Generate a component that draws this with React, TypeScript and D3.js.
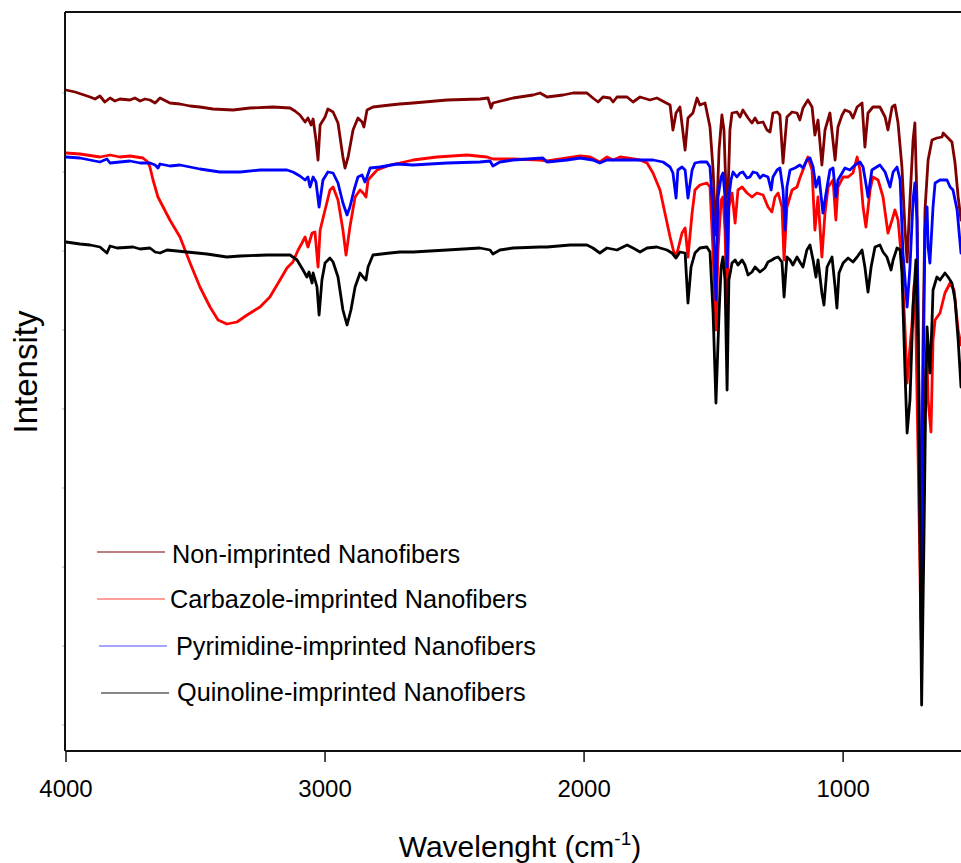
import React from "react";
import * as d3 from "d3";

// Wavenumber (cm-1), intensity (a.u.)
const nonImprinted: [number, number][] = [
  [4000,66.0],[3965,65.8],[3907,65.3],[3888,65.1],[3869,65.4],[3850,64.8],[3830,65.2],[3811,64.9],[3792,65.1],[3753,65.0],[3734,65.2],[3714,64.9],[3695,65.1],[3676,65.0],[3656,64.7],[3637,65.2],[3599,64.7],[3560,64.6],[3521,64.4],[3483,64.3],[3433,64.1],[3355,64.0],[3290,64.2],[3201,64.3],[3135,64.2],[3116,63.9],[3097,63.5],[3077,62.8],[3066,63.2],[3054,62.5],[3046,63.1],[3035,61.0],[3027,59.0],[3019,62.5],[3000,63.3],[2989,64.1],[2969,63.8],[2950,62.7],[2931,59.3],[2923,58.2],[2911,59.3],[2892,62.0],[2873,63.2],[2857,62.8],[2850,62.3],[2838,64.0],[2815,64.3],[2749,64.5],[2711,64.6],[2660,64.7],[2529,65.0],[2402,65.1],[2371,65.2],[2359,64.2],[2352,64.7],[2274,65.2],[2197,65.5],[2170,65.7],[2143,65.3],[2081,65.5],[2043,65.7],[1989,65.7],[1966,65.2],[1946,64.8],[1927,65.3],[1900,65.2],[1888,64.8],[1873,65.3],[1834,65.3],[1811,64.8],[1784,65.3],[1746,65.0],[1719,65.2],[1668,64.5],[1657,62.0],[1645,63.7],[1630,64.3],[1610,60.0],[1599,63.2],[1580,63.7],[1564,65.2],[1553,64.5],[1533,64.7],[1514,62.3],[1502,58.0],[1491,51.5],[1479,60.0],[1468,63.5],[1460,62.0],[1448,52.5],[1437,62.0],[1429,63.7],[1410,63.8],[1398,63.3],[1387,64.0],[1367,63.2],[1352,62.7],[1340,63.2],[1329,62.7],[1309,62.8],[1294,62.0],[1282,61.8],[1271,63.7],[1255,63.8],[1244,63.5],[1232,58.7],[1217,63.3],[1197,63.8],[1178,63.7],[1167,63.0],[1155,64.2],[1136,65.0],[1120,64.3],[1109,61.5],[1097,63.0],[1082,58.5],[1070,62.0],[1051,63.7],[1031,59.0],[1020,62.3],[1004,63.5],[993,64.0],[974,63.8],[962,63.2],[946,64.3],[927,64.7],[916,60.3],[904,63.7],[885,64.3],[858,64.3],[838,63.3],[827,62.0],[811,64.3],[800,64.5],[788,62.7],[773,58.3],[761,52.0],[753,48.8],[742,55.0],[730,61.0],[723,62.7],[715,55.0],[707,33.0],[699,17.0],[692,40.0],[684,54.0],[672,59.0],[657,61.0],[638,61.2],[618,61.3],[614,61.7],[595,61.2],[580,60.8],[568,58.7],[556,55.3],[545,53.0]
];

const carbazole: [number, number][] = [
  [4000,59.7],[3946,59.6],[3869,59.3],[3830,59.5],[3792,59.3],[3753,59.4],[3703,59.2],[3684,58.8],[3676,58.3],[3664,57.0],[3645,55.3],[3629,54.5],[3599,53.0],[3560,51.3],[3521,48.7],[3483,46.3],[3444,44.3],[3413,43.0],[3379,42.6],[3340,42.8],[3301,43.5],[3251,44.3],[3213,45.3],[3174,47.0],[3147,48.2],[3124,48.8],[3104,50.0],[3089,50.7],[3077,51.3],[3066,50.3],[3050,51.7],[3039,51.8],[3027,48.3],[3019,52.0],[3000,54.0],[2981,56.0],[2969,56.3],[2950,55.0],[2931,52.0],[2919,49.5],[2904,52.3],[2884,55.3],[2865,56.0],[2853,55.7],[2842,55.3],[2834,57.0],[2799,58.0],[2749,58.5],[2711,58.7],[2660,59.0],[2568,59.3],[2452,59.5],[2375,59.3],[2352,59.1],[2274,59.1],[2170,59.0],[2143,58.9],[2066,59.2],[2016,59.4],[1977,59.3],[1939,58.8],[1912,59.3],[1888,59.0],[1861,59.3],[1834,59.2],[1784,59.0],[1757,58.7],[1734,57.7],[1707,56.0],[1688,53.7],[1668,51.3],[1649,49.3],[1638,50.0],[1622,51.7],[1610,52.2],[1599,49.3],[1583,53.7],[1572,56.0],[1553,56.5],[1526,56.7],[1514,56.3],[1502,49.7],[1491,42.0],[1483,50.0],[1471,55.0],[1464,55.3],[1456,52.0],[1448,43.0],[1441,54.3],[1429,55.7],[1417,52.7],[1406,56.0],[1390,56.3],[1371,55.7],[1352,55.3],[1333,55.7],[1309,55.5],[1290,54.3],[1275,53.8],[1263,55.3],[1251,55.7],[1236,54.3],[1228,49.0],[1217,54.3],[1197,56.0],[1178,56.3],[1167,57.2],[1155,58.0],[1136,59.3],[1120,58.0],[1109,52.0],[1097,55.3],[1082,49.3],[1070,53.7],[1058,56.3],[1039,57.0],[1028,53.0],[1020,56.3],[1000,57.3],[981,57.3],[962,57.7],[946,59.3],[935,58.0],[923,54.3],[912,52.3],[896,56.0],[885,57.3],[865,57.0],[846,55.3],[827,51.7],[811,53.0],[800,54.0],[788,53.0],[773,48.7],[761,42.0],[753,36.7],[742,40.3],[734,42.7],[726,46.5],[719,42.0],[711,30.0],[699,11.0],[692,30.0],[684,37.0],[676,39.0],[672,35.0],[661,31.8],[653,41.0],[645,43.0],[626,43.7],[607,45.7],[587,46.7],[572,46.0],[556,42.0],[545,40.5]
];

const pyrimidine: [number, number][] = [
  [4000,59.3],[3946,59.2],[3869,58.8],[3842,59.1],[3830,58.7],[3792,58.8],[3753,58.9],[3714,58.7],[3676,58.7],[3656,58.5],[3645,58.2],[3637,58.6],[3599,58.4],[3560,58.5],[3483,58.1],[3406,57.8],[3328,57.8],[3251,58.0],[3147,58.0],[3124,57.8],[3097,57.4],[3077,57.0],[3066,57.3],[3058,56.3],[3046,57.3],[3035,56.8],[3023,54.3],[3008,57.0],[2989,57.8],[2969,57.7],[2950,56.7],[2931,54.7],[2915,53.5],[2904,54.3],[2888,56.0],[2873,57.3],[2857,57.5],[2846,56.8],[2838,57.3],[2826,58.2],[2788,58.3],[2722,58.6],[2660,58.5],[2529,58.7],[2402,58.8],[2363,58.9],[2352,58.4],[2325,58.8],[2274,59.0],[2159,59.2],[2143,58.8],[2066,59.0],[2016,59.2],[1966,59.0],[1939,58.7],[1912,59.0],[1873,59.0],[1834,59.0],[1784,59.0],[1734,59.0],[1695,58.8],[1668,58.3],[1657,57.7],[1645,55.2],[1638,58.0],[1622,58.3],[1610,58.0],[1599,55.2],[1583,58.0],[1572,58.7],[1553,58.8],[1526,58.8],[1514,58.3],[1502,53.7],[1491,45.0],[1483,55.3],[1471,57.3],[1464,57.7],[1456,55.3],[1448,48.3],[1441,55.3],[1433,57.0],[1425,57.8],[1410,57.3],[1398,57.7],[1387,57.8],[1371,57.2],[1360,57.3],[1348,57.8],[1333,57.7],[1321,57.2],[1309,57.5],[1290,57.3],[1278,56.0],[1271,57.3],[1255,58.0],[1244,58.2],[1232,56.0],[1224,52.0],[1217,56.3],[1205,58.0],[1186,58.2],[1167,58.5],[1155,58.2],[1140,59.0],[1128,59.2],[1116,58.3],[1105,56.3],[1093,57.3],[1078,53.7],[1062,56.3],[1051,58.0],[1039,58.2],[1028,55.3],[1020,57.0],[1004,57.7],[993,58.2],[974,58.0],[954,58.5],[935,58.8],[923,58.3],[908,56.0],[904,55.3],[889,58.0],[877,58.2],[858,58.5],[838,57.8],[819,56.3],[807,57.8],[792,58.3],[780,57.0],[769,49.7],[753,44.3],[742,48.3],[730,55.0],[723,56.7],[715,53.0],[707,35.0],[699,13.0],[692,35.0],[684,52.0],[676,54.3],[672,50.3],[665,48.7],[653,54.3],[645,56.7],[626,57.0],[599,57.0],[587,56.3],[576,56.0],[560,54.0],[545,49.7]
];

const quinoline: [number, number][] = [
  [4000,50.8],[3946,50.6],[3907,50.5],[3869,50.3],[3842,49.7],[3830,50.4],[3803,50.2],[3741,50.3],[3714,50.1],[3676,50.2],[3656,49.8],[3637,49.7],[3610,50.0],[3533,49.8],[3456,49.6],[3379,49.3],[3328,49.4],[3224,49.5],[3135,49.5],[3108,49.0],[3085,48.0],[3070,47.3],[3062,47.8],[3050,46.7],[3046,47.7],[3031,46.3],[3023,43.5],[3012,47.0],[3000,48.7],[2981,49.2],[2969,48.8],[2950,47.3],[2931,44.0],[2915,42.5],[2900,44.0],[2884,46.3],[2865,47.7],[2853,47.3],[2842,47.0],[2834,48.3],[2815,49.5],[2749,49.7],[2711,49.8],[2660,49.8],[2529,50.0],[2402,50.2],[2363,50.0],[2352,49.6],[2325,50.0],[2274,50.2],[2170,50.3],[2143,50.3],[2054,50.5],[1989,50.5],[1966,50.2],[1939,49.7],[1912,50.2],[1873,50.0],[1834,50.5],[1811,50.2],[1784,49.8],[1757,50.2],[1719,50.3],[1680,50.0],[1661,49.7],[1645,49.2],[1630,49.8],[1610,49.7],[1599,44.7],[1587,48.3],[1572,49.7],[1553,50.2],[1526,50.3],[1514,49.8],[1502,43.7],[1491,34.7],[1479,43.7],[1471,48.3],[1464,49.3],[1456,47.0],[1448,36.0],[1441,47.0],[1429,48.7],[1417,49.0],[1406,48.5],[1390,49.0],[1379,48.5],[1367,47.5],[1352,47.8],[1340,48.3],[1321,47.8],[1302,48.2],[1290,48.8],[1275,49.0],[1263,49.2],[1251,49.3],[1236,48.8],[1228,45.3],[1217,49.3],[1205,49.0],[1194,48.5],[1178,49.3],[1167,48.8],[1155,48.3],[1140,50.0],[1128,50.5],[1116,49.0],[1105,47.3],[1097,49.0],[1082,45.7],[1074,44.5],[1062,48.3],[1043,49.3],[1031,46.3],[1024,44.2],[1016,47.7],[1000,48.7],[981,49.2],[962,48.8],[946,49.3],[927,50.0],[916,48.3],[904,45.8],[892,48.3],[877,50.3],[858,50.5],[846,49.8],[831,49.3],[815,48.0],[807,49.0],[792,50.2],[780,50.0],[773,47.7],[761,37.7],[753,31.7],[742,35.0],[730,44.3],[719,49.0],[711,41.0],[703,21.0],[697,4.5],[688,21.0],[680,37.7],[676,42.3],[665,37.7],[657,42.7],[653,46.0],[638,47.3],[626,47.0],[607,47.7],[595,47.3],[580,46.7],[568,45.0],[556,41.0],[545,36.3]
];

const seriesNames = [
  "Non-imprinted Nanofibers",
  "Carbazole-imprinted Nanofibers",
  "Pyrimidine-imprinted Nanofibers",
  "Quinoline-imprinted Nanofibers",
];
const seriesColors = ["#7f0000", "#ff0000", "#0000ff", "#000000"];
const legendColors = ["#800000", "#ff3a3a", "#4a4aff", "#111111"];
const xTicks = [4000, 3000, 2000, 1000];
const yTickValues = [65.7, 57.8, 49.9, 42.0, 34.1, 26.2, 18.3, 10.4, 2.5];

const W = 961;
const H = 863;
const left = 66;
const right = 961;
const top = 12;
const bottom = 750;
const font = "Arial, 'Liberation Sans', Helvetica, sans-serif";

export default function App() {
  const x = d3.scaleLinear().domain([4000, 545]).range([left, right]);
  const y = d3.scaleLinear().domain([0, 73.8]).range([bottom, top]);
  const line = d3
    .line<[number, number]>()
    .x((d) => x(d[0]))
    .y((d) => y(d[1]));
  const all = [nonImprinted, carbazole, pyrimidine, quinoline];

  const legendRows = [
    { ly: 552, x1: 97, x2: 165, tx: 172, ty: 563 },
    { ly: 599, x1: 97, x2: 165, tx: 170, ty: 608 },
    { ly: 646, x1: 99, x2: 167, tx: 176, ty: 655 },
    { ly: 693, x1: 101, x2: 169, tx: 177, ty: 701 },
  ];

  return (
    <svg
      width={W}
      height={H}
      style={{ position: "absolute", left: 0, top: 0, background: "#fff" }}
      fontFamily={font}
    >
      <defs>
        <clipPath id="plotClip">
          <rect x={left - 1} y={top} width={right - left + 2} height={bottom - top} />
        </clipPath>
      </defs>
      <rect x={0} y={0} width={W} height={H} fill="#fff" />
      <g clipPath="url(#plotClip)">
        {all.map((s, i) => (
          <path
            key={i}
            d={line(s) || ""}
            fill="none"
            stroke={seriesColors[i]}
            strokeWidth={2.8}
            strokeLinejoin="round"
            strokeLinecap="round"
          />
        ))}
      </g>
      {/* frame */}
      <line x1={left - 1} x2={right} y1={top} y2={top} stroke="#111" strokeWidth={2} />
      <line x1={left - 1} x2={left - 1} y1={top} y2={bottom + 1} stroke="#111" strokeWidth={2} />
      <line x1={left - 1} x2={right} y1={bottom + 1} y2={bottom + 1} stroke="#111" strokeWidth={2} />
      {/* faint y ticks */}
      {yTickValues.map((v, i) => (
        <line key={i} x1={left - 4} x2={left - 2} y1={y(v)} y2={y(v)} stroke="#bbb" strokeWidth={1} />
      ))}
      {/* x ticks */}
      {xTicks.map((t) => (
        <g key={t}>
          <line x1={x(t)} x2={x(t)} y1={bottom + 1} y2={bottom + 12} stroke="#111" strokeWidth={1.5} />
          <text x={x(t)} y={797} textAnchor="middle" fontSize={24} fill="#000">
            {t}
          </text>
        </g>
      ))}
      <text x={520} y={857} textAnchor="middle" fontSize={30} fill="#000">
        Wavelenght (cm
        <tspan fontSize={19} dy={-12}>-1</tspan>
        <tspan dy={12}>)</tspan>
      </text>
      <text
        transform={`translate(37,${372}) rotate(-90)`}
        textAnchor="middle"
        fontSize={33}
        fill="#000"
      >
        Intensity
      </text>
      {/* legend */}
      {legendRows.map((r, i) => (
        <g key={i}>
          <line x1={r.x1} x2={r.x2} y1={r.ly} y2={r.ly} stroke={legendColors[i]} strokeWidth={1.2} />
          <text x={r.tx} y={r.ty} fontSize={25.3} fill="#000">
            {seriesNames[i]}
          </text>
        </g>
      ))}
    </svg>
  );
}
